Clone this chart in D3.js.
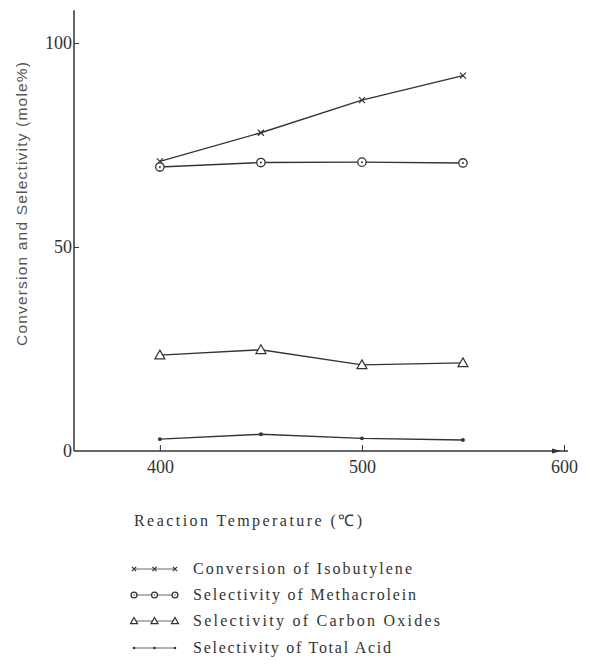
<!DOCTYPE html>
<html>
<head>
<meta charset="utf-8" />
<style>
    body { margin: 0; background: #fff; }
    svg { display: block; }
    .tick text { font-family: "Liberation Serif", serif; font-size: 18px; fill: #333; }
    .ytitle { font-family: "Liberation Sans", sans-serif; font-size: 15.5px; fill: #555; }
    .xtitle, .legend text { font-family: "Liberation Serif", serif; font-size: 16px; fill: #333; }
</style>
</head>
<body>
<div id="chart"></div>
<script src="https://d3js.org/d3.v7.min.js"></script>
<script>
    var temps = [400, 450, 500, 550];
    var conversion = [71, 78, 86, 92];
    var methacrolein = [69.6, 70.7, 70.8, 70.6];
    var carbonOxides = [23.5, 24.8, 21.1, 21.6];
    var totalAcid = [2.9, 4.1, 3.1, 2.7];
    var xTicks = [400, 500, 600];
    var yTicks = [0, 50, 100];
    var seriesNames = ['Conversion of Isobutylene', 'Selectivity of Methacrolein',
        'Selectivity of Carbon Oxides', 'Selectivity of Total Acid'];

    var width = 590, height = 672;
    var ink = '#333';

    var svg = d3.select('#chart').append('svg')
        .attr('width', width)
        .attr('height', height);

    var x = d3.scaleLinear().domain([357.5, 600]).range([74, 564]);
    var y = d3.scaleLinear().domain([0, 100]).range([451, 43]);

    // axes
    var xAxis = svg.append('g')
        .attr('transform', 'translate(0,' + y(0) + ')')
        .call(d3.axisBottom(x).tickValues(xTicks).tickSizeInner(-6).tickSizeOuter(0).tickFormat(d3.format('d')));
    xAxis.select('.domain').remove();
    xAxis.selectAll('.tick line').attr('stroke', ink);
    xAxis.selectAll('.tick text').attr('dy', '1.05em');

    var yAxis = svg.append('g')
        .attr('transform', 'translate(' + x(357.5) + ',0)')
        .call(d3.axisLeft(y).tickValues(yTicks).tickSizeInner(-5).tickSizeOuter(0).tickPadding(2));
    yAxis.select('.domain').remove();
    yAxis.selectAll('.tick line').attr('stroke', ink).filter(function(d) { return d === 0; }).remove();
    yAxis.selectAll('.tick text').attr('x', -2);

    svg.append('line')
        .attr('x1', x(357.5)).attr('x2', x(357.5))
        .attr('y1', y(108)).attr('y2', y(0))
        .attr('stroke', ink).attr('stroke-width', 1.5);
    svg.append('line')
        .attr('x1', x(357.5)).attr('x2', x(602))
        .attr('y1', y(0)).attr('y2', y(0))
        .attr('stroke', ink).attr('stroke-width', 1.5);
    svg.append('path')
        .attr('d', 'M' + (x(600) - 12) + ',' + (y(0) - 2.5) + 'L' + (x(600) - 3) + ',' + y(0) +
            'L' + (x(600) - 12) + ',' + (y(0) + 2.5) + 'Z')
        .attr('fill', ink);

    svg.append('text')
        .attr('class', 'ytitle')
        .attr('transform', 'translate(27,' + 204 + ') rotate(-90)')
        .attr('text-anchor', 'middle')
        .attr('textLength', 284)
        .attr('lengthAdjust', 'spacing')
        .text('Conversion and Selectivity (mole%)');

    svg.append('text')
        .attr('class', 'xtitle')
        .attr('x', 134).attr('y', 526)
        .attr('textLength', 228)
        .attr('lengthAdjust', 'spacing')
        .text('Reaction Temperature (\u2103)');

    // markers, k scales the size
    function drawMarker(g, type, cx, cy, k) {
        if (type === 'cross') {
            var c = 3 * k;
            g.append('path')
                .attr('d', 'M' + (cx - c) + ',' + (cy - c) + 'L' + (cx + c) + ',' + (cy + c) +
                    'M' + (cx - c) + ',' + (cy + c) + 'L' + (cx + c) + ',' + (cy - c))
                .attr('stroke', ink).attr('stroke-width', 1.2);
        } else if (type === 'circle') {
            g.append('circle').attr('cx', cx).attr('cy', cy).attr('r', 4.2 * k)
                .attr('fill', '#fff').attr('stroke', ink).attr('stroke-width', 1.3);
            g.append('circle').attr('cx', cx).attr('cy', cy).attr('r', 1 * k).attr('fill', ink);
        } else if (type === 'triangle') {
            var t = 5 * k;
            g.append('path')
                .attr('d', 'M' + cx + ',' + (cy - t) + 'L' + (cx + t) + ',' + (cy + t * 0.75) +
                    'L' + (cx - t) + ',' + (cy + t * 0.75) + 'Z')
                .attr('fill', '#fff').attr('stroke', ink).attr('stroke-width', 1.2);
        } else {
            g.append('circle').attr('cx', cx).attr('cy', cy).attr('r', 1.9 * k).attr('fill', ink);
        }
    }

    var series = [
        { name: seriesNames[0], values: conversion, marker: 'cross' },
        { name: seriesNames[1], values: methacrolein, marker: 'circle' },
        { name: seriesNames[2], values: carbonOxides, marker: 'triangle' },
        { name: seriesNames[3], values: totalAcid, marker: 'dot' }
    ];

    var line = d3.line()
        .x(function(d) { return x(d.t); })
        .y(function(d) { return y(d.v); });

    series.forEach(function(s) {
        var pts = temps.map(function(t, i) { return { t: t, v: s.values[i] }; });
        var g = svg.append('g');
        g.append('path')
            .attr('d', line(pts))
            .attr('fill', 'none')
            .attr('stroke', ink)
            .attr('stroke-width', 1.4);
        pts.forEach(function(p) { drawMarker(g, s.marker, x(p.t), y(p.v), 1); });
    });

    // legend
    var legendY = [569, 595, 621, 648];
    var legendLen = [219, 223, 247, 198];
    var legend = svg.selectAll('.legend')
        .data(series)
        .enter()
        .append('g')
        .attr('class', 'legend')
        .attr('transform', function(d, i) { return 'translate(0,' + legendY[i] + ')'; });

    legend.each(function(d) {
        var g = d3.select(this);
        g.append('line').attr('x1', 134).attr('x2', 175).attr('y1', 0).attr('y2', 0)
            .attr('stroke', '#666').attr('stroke-width', 1);
        [134, 154.5, 175].forEach(function(cx) {
            drawMarker(g, d.marker, cx, 0, 0.7);
        });
    });

    legend.append('text')
        .attr('x', 193)
        .attr('y', 5)
        .attr('textLength', function(d, i) { return legendLen[i]; })
        .attr('lengthAdjust', 'spacing')
        .text(function(d) { return d.name; });
</script>
</body>
</html>
